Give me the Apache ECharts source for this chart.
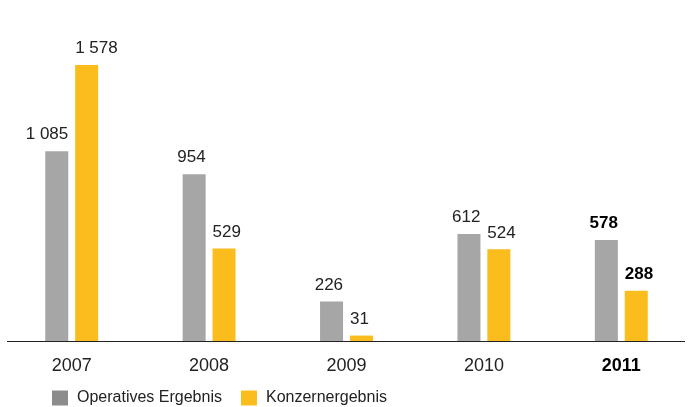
<!DOCTYPE html>
<html>
<head>
<meta charset="utf-8">
<script src="https://cdn.jsdelivr.net/npm/echarts@6/dist/echarts.min.js"></script>
<style>html,body{margin:0;padding:0;background:#fff}#c{width:691px;height:407px}</style>
</head>
<body>
<div id="c"></div>
<script>
var categories = ['2007', '2008', '2009', '2010', '2011'];
var operatives = [1085, 954, 226, 612, 578];
var konzern = [1578, 529, 31, 524, 288];
var seriesNames = ['Operatives Ergebnis', 'Konzernergebnis'];
var highlightIndex = 4;

var FONT = '"Liberation Sans", Arial, Helvetica, sans-serif';
function fmt(v) { return String(v).replace(/\B(?=(\d{3})+(?!\d))/g, ' '); }
function toData(arr) {
  return arr.map(function (v, i) {
    if (i === highlightIndex) return { value: v, label: { fontWeight: 'bold', color: '#000' } };
    return v;
  });
}

var chart = echarts.init(document.getElementById('c'));
chart.setOption({
  animation: false,
  backgroundColor: '#fff',
  grid: { left: 3, right: 1, top: 0, bottom: 66, containLabel: false },
  legend: {
    left: 52, top: 390, padding: 0,
    itemWidth: 16, itemHeight: 15, itemGap: 19,
    icon: 'rect',
    textStyle: { fontFamily: FONT, fontSize: 16, color: '#222', padding: [0, 0, 0, 4] },
    data: [
      { name: seriesNames[0], itemStyle: { color: '#8c8c8c' } },
      { name: seriesNames[1], itemStyle: { color: '#fbbd1e' } }
    ]
  },
  xAxis: {
    type: 'category',
    data: categories,
    axisLine: { show: false },
    axisTick: { show: false },
    axisLabel: {
      margin: 16,
      fontFamily: FONT, fontSize: 18, color: '#222',
      formatter: function (v, i) { return i === highlightIndex ? '{b|' + v + '}' : v; },
      rich: { b: { fontFamily: FONT, fontSize: 18, fontWeight: 'bold', color: '#000' } }
    }
  },
  yAxis: {
    type: 'value', min: 0, max: 1950,
    show: false, splitLine: { show: false }
  },
  series: [
    {
      name: seriesNames[0], type: 'bar', barWidth: 23, barGap: '30%',
      itemStyle: { color: '#a6a6a6' },
      data: toData(operatives),
      label: {
        show: true, position: ['100%', -8], align: 'right', verticalAlign: 'bottom',
        fontFamily: FONT, fontSize: 17, color: '#222',
        formatter: function (p) { return fmt(p.value); }
      }
    },
    {
      name: seriesNames[1], type: 'bar', barWidth: 23,
      itemStyle: { color: '#fbbd1e' },
      data: toData(konzern),
      label: {
        show: true, position: [0, -8], align: 'left', verticalAlign: 'bottom',
        fontFamily: FONT, fontSize: 17, color: '#222',
        formatter: function (p) { return fmt(p.value); }
      }
    }
  ]
});
var y0 = Math.round(chart.convertToPixel({ yAxisIndex: 0 }, 0)) + 0.5;
chart.setOption({
  graphic: [{
    type: 'line', shape: { x1: 7, y1: y0, x2: 685, y2: y0 },
    style: { stroke: '#222', lineWidth: 1 }, z: 10
  }]
});
</script>
</body>
</html>
